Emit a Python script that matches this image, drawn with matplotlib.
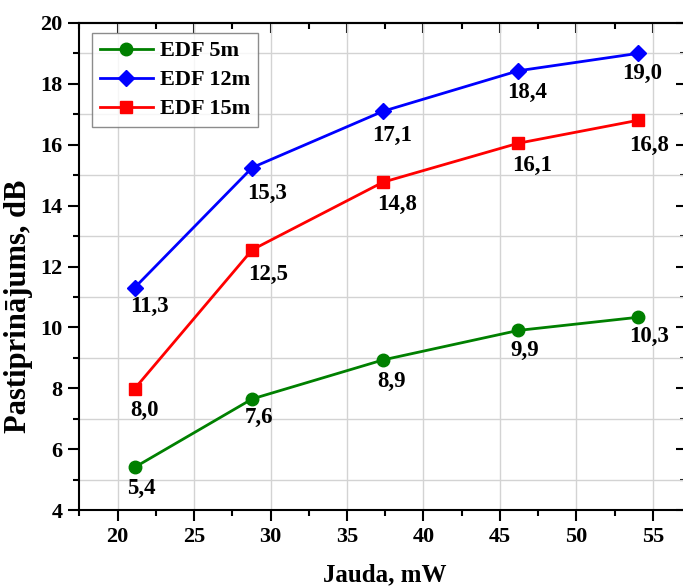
import matplotlib
matplotlib.use("Agg")
import matplotlib.pyplot as plt
from matplotlib.ticker import MultipleLocator

# ---- data ----
power_mw = [21.1, 28.8, 37.35, 46.2, 54.0]
gain_5m = [5.4, 7.65, 8.93, 9.9, 10.33]
gain_12m = [11.3, 15.25, 17.1, 18.43, 19.0]
gain_15m = [7.98, 12.55, 14.77, 16.05, 16.8]
labels_5m = ["5,4", "7,6", "8,9", "9,9", "10,3"]
labels_12m = ["11,3", "15,3", "17,1", "18,4", "19,0"]
labels_15m = ["8,0", "12,5", "14,8", "16,1", "16,8"]
series_names = ["EDF 5m", "EDF 12m", "EDF 15m"]

# label offsets in pixels (dx, dy) from point to text top-left
off_5m = [(-7, -12), (-7, -9), (-6, -12), (-8, -11), (-8, -10)]
off_12m = [(-4, -9), (-5, -16), (-11, -15), (-11, -12), (-15, -11)]
off_15m = [(-4, -12), (-4, -15), (-6, -13), (-6, -13), (-8, -16)]

plt.rcParams['font.family'] = ['Liberation Serif', 'DejaVu Serif']
plt.rcParams['font.weight'] = 'bold'

W, H = 683, 587
fig = plt.figure(figsize=(W / 100, H / 100), dpi=100)
AX_L, AX_R, AX_T, AX_B = 79, 686, 23, 510
ax = fig.add_axes([AX_L / W, 1 - AX_B / H, (AX_R - AX_L) / W, (AX_B - AX_T) / H])

styles = [
    dict(color="#008000", marker="o", markersize=9),
    dict(color="#0000FF", marker="D", markersize=8),
    dict(color="#FF0000", marker="s", markersize=8.5),
]
all_y = [gain_5m, gain_12m, gain_15m]
all_lab = [labels_5m, labels_12m, labels_15m]
all_off = [off_5m, off_12m, off_15m]

for name, ys, labs, offs, st in zip(series_names, all_y, all_lab, all_off, styles):
    ax.plot(power_mw, ys, lw=2.0, label=name, zorder=3, **st)
    for x, y, t, (dx, dy) in zip(power_mw, ys, labs, offs):
        ax.annotate(t, (x, y), xytext=(dx, dy + 1), textcoords='offset pixels',
                    ha='left', va='top', fontsize=16.5, fontweight='bold',
                    color='black', zorder=4)

ax.set_xlim(17.47, 57.17)
ax.set_ylim(4, 20)
ax.xaxis.set_major_locator(MultipleLocator(5))
ax.xaxis.set_minor_locator(MultipleLocator(2.5))
ax.yaxis.set_major_locator(MultipleLocator(2))
ax.yaxis.set_minor_locator(MultipleLocator(1))

ax.grid(False)
ax.grid(which='major', axis='x', color='#d3d3d3', lw=1.0, zorder=0)
ax.grid(which='minor', axis='y', color='#d3d3d3', lw=1.0, zorder=0)

ax.tick_params(which='both', direction='out', width=1.5, labelsize=16,
               top=False, right=False)
ax.tick_params(which='major', length=8, pad=4)
ax.tick_params(which='minor', length=4.5)
for lab in ax.get_xticklabels() + ax.get_yticklabels():
    lab.set_fontweight('bold')

# inward ticks on top and right
sec_x = ax.secondary_xaxis('top')
sec_x.xaxis.set_major_locator(MultipleLocator(5))
sec_x.xaxis.set_minor_locator(MultipleLocator(2.5))
sec_x.tick_params(which='both', direction='in', width=1.5, labeltop=False)
sec_x.tick_params(which='major', length=7)
sec_x.tick_params(which='minor', length=4)
sec_x.spines['top'].set_linewidth(1.5)
sec_y = ax.secondary_yaxis('right')
sec_y.yaxis.set_major_locator(MultipleLocator(2))
sec_y.yaxis.set_minor_locator(MultipleLocator(1))
sec_y.tick_params(which='both', direction='in', width=1.5, labelright=False)
sec_y.tick_params(which='major', length=7)
sec_y.tick_params(which='minor', length=4)

for s in ax.spines.values():
    s.set_linewidth(1.5)

ax.set_xlabel("Jauda, mW", fontsize=18, fontweight='bold')
ax.xaxis.set_label_coords((385 - AX_L) / (AX_R - AX_L), -(563 - AX_B) / (AX_B - AX_T))
ax.set_ylabel("Pastiprinājums, dB", fontsize=22, fontweight='bold')
ax.yaxis.set_label_coords(-(AX_L - 33) / (AX_R - AX_L), (AX_B - 306) / (AX_B - AX_T))

leg = ax.legend(loc='upper left', bbox_to_anchor=(13 / (AX_R - AX_L), 1 - 10 / (AX_B - AX_T)),
                fontsize=16, frameon=True, fancybox=False, edgecolor='#707070',
                handlelength=2.4, borderpad=0.35, labelspacing=0.38,
                handletextpad=0.3, borderaxespad=0)
leg.get_frame().set_linewidth(1.0)
for t in leg.get_texts():
    t.set_fontweight('bold')

fig.savefig("out.png", dpi=100)
